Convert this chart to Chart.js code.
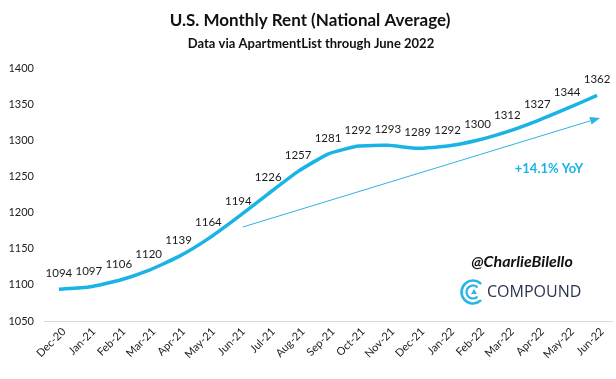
<!DOCTYPE html>
<html>
<head>
<meta charset="utf-8">
<script src="https://cdn.jsdelivr.net/npm/chart.js@4.4.0/dist/chart.umd.min.js"></script>
<style>
html,body{margin:0;padding:0;background:#fff;}
#wrap{width:616px;height:379px;position:relative;}
</style>
</head>
<body>
<div id="wrap"><canvas id="c" width="616" height="379"></canvas></div>
<script>
const categories = ['Dec-20','Jan-21','Feb-21','Mar-21','Apr-21','May-21','Jun-21','Jul-21','Aug-21','Sep-21','Oct-21','Nov-21','Dec-21','Jan-22','Feb-22','Mar-22','Apr-22','May-22','Jun-22'];
const rentValues = [1094,1097,1106,1120,1139,1164,1194,1226,1257,1281,1292,1293,1289,1292,1300,1312,1327,1344,1362];
const yMin = 1050, yMax = 1400, yStep = 50;
const titleText = 'U.S. Monthly Rent (National Average)';
const subtitleText = 'Data via ApartmentList through June 2022';
const yoyText = '+14.1% YoY';
// trend arrow, in data units (category index, rent value)
const trendStart = [6.15, 1180];
const trendEnd = [18.1, 1331];

const CYAN = '#19b3e6';
const FONT = 'Lato, "Open Sans", sans-serif';

const overlay = {
  id: 'overlay',
  afterDatasetsDraw(chart) {
    const ctx = chart.ctx;
    const xs = chart.scales.x, ys = chart.scales.y;
    const meta = chart.getDatasetMeta(0);
    ctx.save();
    // data labels
    ctx.font = '11.5px ' + FONT;
    ctx.fillStyle = '#1a1a1a';
    ctx.textAlign = 'center';
    ctx.textBaseline = 'middle';
    meta.data.forEach((pt, i) => {
      ctx.fillText(String(rentValues[i]), pt.x, pt.y - 16);
    });
    // trend arrow
    const x1 = xs.getPixelForValue(trendStart[0]), y1 = ys.getPixelForValue(trendStart[1]);
    const x2 = xs.getPixelForValue(trendEnd[0]), y2 = ys.getPixelForValue(trendEnd[1]);
    const ang = Math.atan2(y2 - y1, x2 - x1);
    const hl = 10, hw = 4;
    ctx.strokeStyle = '#2fb3e0';
    ctx.lineWidth = 1;
    ctx.beginPath();
    ctx.moveTo(x1, y1);
    ctx.lineTo(x2 - hl * Math.cos(ang), y2 - hl * Math.sin(ang));
    ctx.stroke();
    ctx.fillStyle = '#2fb3e0';
    ctx.beginPath();
    ctx.moveTo(x2, y2);
    ctx.lineTo(x2 - hl * Math.cos(ang) + hw * Math.sin(ang), y2 - hl * Math.sin(ang) - hw * Math.cos(ang));
    ctx.lineTo(x2 - hl * Math.cos(ang) - hw * Math.sin(ang), y2 - hl * Math.sin(ang) + hw * Math.cos(ang));
    ctx.closePath();
    ctx.fill();
    // YoY text
    ctx.fillStyle = CYAN;
    ctx.font = 'bold 13px ' + FONT;
    ctx.textAlign = 'center';
    ctx.fillText(yoyText, 549, 169);
    // titles
    ctx.fillStyle = '#111';
    ctx.font = 'bold 17px ' + FONT;
    ctx.fillText(titleText, 310, 21);
    ctx.font = 'bold 13px ' + FONT;
    ctx.fillText(subtitleText, 311, 44);
    // handle
    ctx.font = 'italic bold 16px ' + FONT;
    ctx.fillStyle = '#111';
    ctx.fillText('@CharlieBilello', 522, 262);
    // logo
    const cx = 473, cy = 292;
    ctx.strokeStyle = '#2bb5e6';
    ctx.lineCap = 'round';
    ctx.lineWidth = 2.6;
    ctx.beginPath();
    ctx.arc(cx, cy, 11.5, Math.PI * 0.28, Math.PI * 1.72);
    ctx.stroke();
    ctx.lineWidth = 2.2;
    ctx.beginPath();
    ctx.arc(cx, cy, 6.5, Math.PI * 0.3, Math.PI * 1.7);
    ctx.stroke();
    ctx.fillStyle = '#2bb5e6';
    ctx.beginPath();
    ctx.moveTo(cx + 1, cy - 3);
    ctx.lineTo(cx + 4, cy + 2);
    ctx.lineTo(cx - 2, cy + 2);
    ctx.closePath();
    ctx.fill();
    ctx.fillStyle = '#2c3350';
    ctx.font = '16px "Open Sans", ' + FONT;
    ctx.textAlign = 'left';
    ctx.fillText('COMPOUND', 487, 292);
    ctx.restore();
  }
};

new Chart(document.getElementById('c'), {
  type: 'line',
  data: {
    labels: categories,
    datasets: [{
      data: rentValues,
      borderColor: CYAN,
      borderWidth: 3.5,
      pointRadius: 0,
      tension: 0.15,
      fill: false
    }]
  },
  options: {
    responsive: false,
    animation: false,
    devicePixelRatio: 1,
    layout: { padding: { top: 68, right: 4, left: 0, bottom: 0 } },
    plugins: { legend: { display: false }, tooltip: { enabled: false } },
    scales: {
      x: {
        offset: true,
        grid: { display: false, drawTicks: false },
        border: { display: true, color: '#d9d9d9', width: 1 },
        ticks: { font: { family: FONT, size: 11 }, color: '#222', maxRotation: 45, minRotation: 45, autoSkip: false, padding: 4, labelOffset: 5 },
        afterFit(s) { s.height = 58; }
      },
      y: {
        min: yMin, max: yMax,
        grid: { display: false, drawTicks: false },
        border: { display: false },
        ticks: { stepSize: yStep, font: { family: FONT, size: 11 }, color: '#222', padding: 10, callback: (v) => String(v) },
        afterFit(s) { s.width = 44; }
      }
    }
  },
  plugins: [overlay]
});
</script>
</body>
</html>
